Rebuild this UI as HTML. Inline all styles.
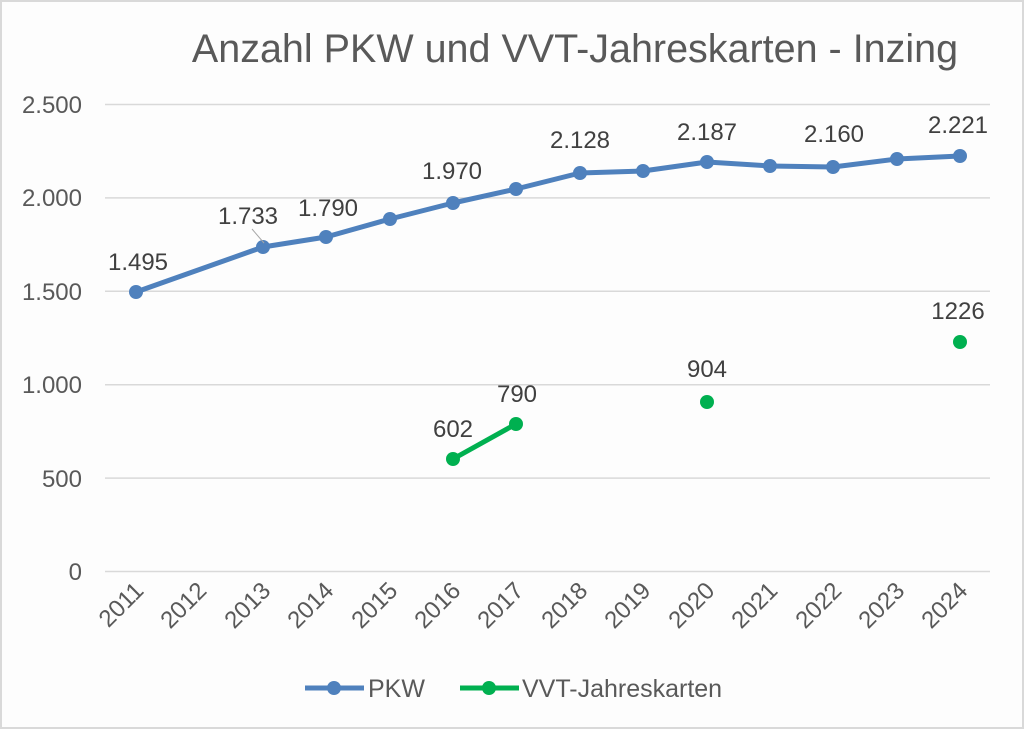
<!DOCTYPE html>
<html><head><meta charset="utf-8"><style>body{margin:0;background:#fff}</style></head><body>
<svg width="1024" height="729" xmlns="http://www.w3.org/2000/svg" font-family="Liberation Sans, sans-serif">
<rect x="1" y="1" width="1022" height="727" fill="#fdfdfd" stroke="#d9d9d9" stroke-width="2"/>
<text x="575" y="62" font-size="39.5" fill="#595959" text-anchor="middle">Anzahl PKW und VVT-Jahreskarten - Inzing</text>
<g stroke="#d9d9d9" stroke-width="1.5">
<line x1="105" x2="990" y1="104.5" y2="104.5"/><line x1="105" x2="990" y1="197.9" y2="197.9"/>
<line x1="105" x2="990" y1="291.3" y2="291.3"/><line x1="105" x2="990" y1="384.7" y2="384.7"/>
<line x1="105" x2="990" y1="478.1" y2="478.1"/><line x1="105" x2="990" y1="571.5" y2="571.5"/>
</g>
<g font-size="24" fill="#595959" text-anchor="end">
<text x="82" y="113">2.500</text><text x="82" y="206">2.000</text><text x="82" y="300">1.500</text>
<text x="82" y="393">1.000</text><text x="82" y="487">500</text><text x="82" y="580">0</text>
</g>
<g font-size="24" fill="#595959" text-anchor="end">
<text transform="translate(145,592) rotate(-45)">2011</text>
<text transform="translate(208,592) rotate(-45)">2012</text>
<text transform="translate(272,592) rotate(-45)">2013</text>
<text transform="translate(335,592) rotate(-45)">2014</text>
<text transform="translate(399,592) rotate(-45)">2015</text>
<text transform="translate(462,592) rotate(-45)">2016</text>
<text transform="translate(525,592) rotate(-45)">2017</text>
<text transform="translate(589,592) rotate(-45)">2018</text>
<text transform="translate(652,592) rotate(-45)">2019</text>
<text transform="translate(716,592) rotate(-45)">2020</text>
<text transform="translate(779,592) rotate(-45)">2021</text>
<text transform="translate(843,592) rotate(-45)">2022</text>
<text transform="translate(906,592) rotate(-45)">2023</text>
<text transform="translate(969,592) rotate(-45)">2024</text>
</g>
<polyline fill="none" stroke="#4f81bd" stroke-width="5" stroke-linejoin="round" points="136,292 263,247 326,237 390,219 453,203 516,189 580,173 643,171 707,162 770,166 833,167 897,159 960,156"/>
<g fill="#4f81bd">
<circle cx="136" cy="292" r="7"/><circle cx="263" cy="247" r="7"/><circle cx="326" cy="237" r="7"/><circle cx="390" cy="219" r="7"/><circle cx="453" cy="203" r="7"/><circle cx="516" cy="189" r="7"/><circle cx="580" cy="173" r="7"/><circle cx="643" cy="171" r="7"/><circle cx="707" cy="162" r="7"/><circle cx="770" cy="166" r="7"/><circle cx="833" cy="167" r="7"/><circle cx="897" cy="159" r="7"/><circle cx="960" cy="156" r="7"/>
</g>
<line x1="252" y1="229" x2="264" y2="243" stroke="#a6a6a6" stroke-width="1"/>
<line x1="453" y1="459" x2="516" y2="424" stroke="#00b050" stroke-width="5"/>
<g fill="#00b050"><circle cx="453" cy="459" r="7"/><circle cx="516" cy="424" r="7"/><circle cx="707" cy="402" r="7"/><circle cx="960" cy="342" r="7"/></g>
<g font-size="24" fill="#404040" text-anchor="middle">
<text x="138" y="270">1.495</text><text x="248" y="224">1.733</text><text x="328" y="216">1.790</text>
<text x="452" y="179">1.970</text><text x="580" y="148">2.128</text><text x="707" y="140">2.187</text>
<text x="834" y="142">2.160</text><text x="958" y="133">2.221</text>
<text x="453" y="437">602</text><text x="517" y="402">790</text><text x="707" y="377">904</text><text x="958" y="319">1226</text>
</g>
<line x1="305" y1="688" x2="364" y2="688" stroke="#4f81bd" stroke-width="5"/><circle cx="334" cy="688" r="7" fill="#4f81bd"/>
<text x="368" y="697" font-size="25" fill="#595959">PKW</text>
<line x1="460" y1="688" x2="519" y2="688" stroke="#00b050" stroke-width="5"/><circle cx="489" cy="688" r="7" fill="#00b050"/>
<text x="522" y="697" font-size="25" fill="#595959">VVT-Jahreskarten</text>
</svg>
</body></html>
